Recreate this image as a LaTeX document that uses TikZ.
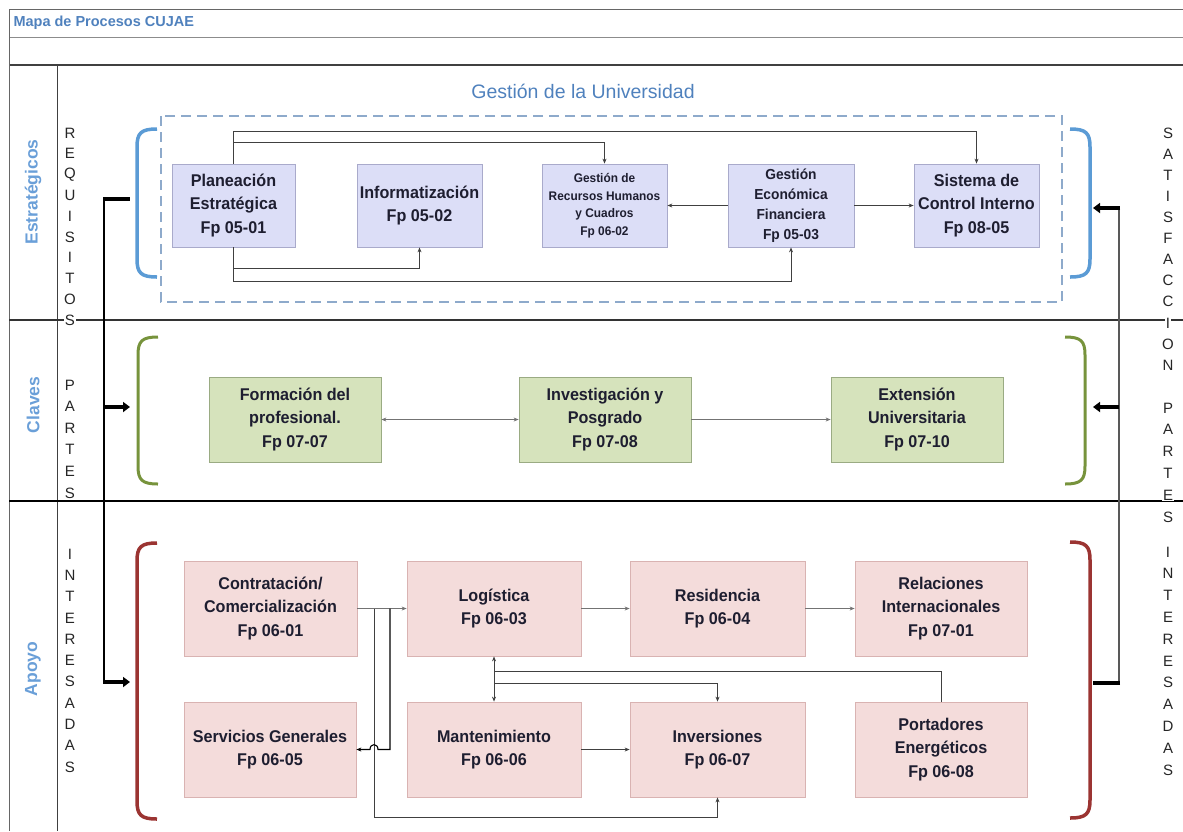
\documentclass[tikz,border=0pt]{standalone}
\usepackage{fontspec}
\setmainfont{Liberation Sans}
\newfontfamily\bxf[FakeStretch=0.95]{Liberation Sans}
\usetikzlibrary{arrows.meta}
\definecolor{tblue}{HTML}{4F81BD}
\definecolor{lblue}{HTML}{6A9FD8}
\definecolor{brblue}{HTML}{5B9BD5}
\definecolor{brgreen}{HTML}{77933C}
\definecolor{brred}{HTML}{9B3432}
\definecolor{sfill}{HTML}{DCDEF7}
\definecolor{sbord}{HTML}{A9AACB}
\definecolor{gfill}{HTML}{D6E3BC}
\definecolor{gbord}{HTML}{9AAB83}
\definecolor{pfill}{HTML}{F4DCDB}
\definecolor{pbord}{HTML}{D9B3B2}
\definecolor{dashc}{HTML}{8EAACB}
\definecolor{txt}{HTML}{1E1E30}
\begin{document}
\begin{tikzpicture}[x=1pt,y=-1pt,
  conn/.style={draw=black!75, line width=0.8pt},
  arr/.style={-{Stealth[length=5pt,width=4pt]}},
  darr/.style={{Stealth[length=5pt,width=4pt]}-{Stealth[length=5pt,width=4pt]}},
  bigarr/.style={line width=3.2pt, -{Triangle[length=7pt,width=10pt]}},
  tick/.style={line width=3.2pt},
  boxbase/.style={align=center, text=txt, inner sep=2pt, line width=0.8pt},
  sbox/.style={boxbase, draw=sbord, fill=sfill, minimum height=83},
  gbox/.style={boxbase, draw=gbord, fill=gfill, minimum width=172, minimum height=85},
  pbox/.style={boxbase, draw=pbord, fill=pfill, minimum height=95},
  bigf/.style={font=\bxf\bfseries\fontsize{17}{23.5}\selectfont},
  letr/.style={fill=white, inner sep=1pt, text=black!85, font=\fontsize{15}{15}\selectfont},
  sidel/.style={rotate=90, text=lblue, font=\bfseries\fontsize{17.5}{19}\selectfont},
  sep/.style={draw=black!80, line width=1.3pt}
]
\useasboundingbox (0,0) rectangle (1183,831);

% frame and header
\draw[black!60, line width=1pt] (9,9) -- (1183,9);
\draw[black!45, line width=1pt] (9,37) -- (1183,37);
\draw[black!75, line width=1.3pt] (9,65) -- (1183,65);
\draw[black!60, line width=1pt] (9,9) -- (9,831);
\draw[black!75, line width=1pt] (57,65) -- (57,831);
\draw[sep] (9,320) -- (1183,320);
\draw[black, line width=2pt] (9,501) -- (1183,501);

\node[anchor=west, text=tblue, font=\bfseries\fontsize{14.5}{16}\selectfont] (titulo) at (10,23) {Mapa de Procesos CUJAE};
\node[text=tblue, font=\fontsize{19.5}{21}\selectfont] (gestion) at (583,91) {Gestión de la Universidad};

% side labels
\node[sidel] (lest) at (33,192) {Estratégicos};
\node[sidel] (lcla) at (33,405) {Claves};
\node[sidel] (lapo) at (33,669) {Apoyo};

% dashed frame
\draw[dashc, line width=1.2pt, dash pattern=on 10pt off 6pt] (161,116) rectangle (1062,302);

% brackets
\draw[brblue, line width=3.5pt] (157,129) .. controls (141,129) and (137,133) .. (137,147) -- (137,259) .. controls (137,273) and (141,277) .. (157,277);
\draw[brblue, line width=3.5pt] (1070,129) .. controls (1086,129) and (1090,133) .. (1090,147) -- (1090,259) .. controls (1090,273) and (1086,277) .. (1070,277);
\draw[brgreen, line width=3pt] (158,337) .. controls (142,337) and (138,341) .. (138,355) -- (138,466) .. controls (138,480) and (142,484) .. (158,484);
\draw[brgreen, line width=3pt] (1065,337) .. controls (1081,337) and (1085,341) .. (1085,355) -- (1085,466) .. controls (1085,480) and (1081,484) .. (1065,484);
\draw[brred, line width=3.5pt] (157,543) .. controls (141,543) and (137,547) .. (137,561) -- (137,801) .. controls (137,815) and (141,819) .. (157,819);
\draw[brred, line width=3.5pt] (1070,542) .. controls (1086,542) and (1090,546) .. (1090,560) -- (1090,800) .. controls (1090,814) and (1086,818) .. (1070,818);

% bracket attachment points
\coordinate (bl1) at (130,199);
\coordinate (bl2) at (130,407);
\coordinate (bl3) at (130,682);
\coordinate (br1) at (1093,208);
\coordinate (br2) at (1093,407);
\coordinate (br3) at (1093,683);
\coordinate (vl1) at (104,199);
\coordinate (vl2) at (104,407);
\coordinate (vl3) at (104,682);
\coordinate (vr1) at (1119,208);
\coordinate (vr2) at (1119,407);
\coordinate (vr3) at (1119,683);

% left side connector
\draw[black, line width=2pt] (vl1) -- (vl3);
\draw[tick] ([xshift=-1pt]vl1) -- (bl1);
\draw[bigarr] ([xshift=-1pt]vl3) -- (bl3);
\draw[bigarr] (vl2) -- (bl2);
% right side connector
\draw[black!65, line width=1.2pt] (vr1) -- (vr3);
\draw[bigarr] ([xshift=1pt]vr1) -- (br1);
\draw[bigarr] (vr2) -- (br2);
\draw[tick] ([xshift=1pt]vr3) -- (br3);

% strategic boxes
\node[sbox, bigf, minimum width=123] (P1) at (233.5,205.5) {Planeación\\Estratégica\\Fp 05-01};
\node[sbox, bigf, minimum width=125] (P2) at (419.5,205.5) {Informatización\\Fp 05-02};
\node[sbox, minimum width=125, font=\bxf\bfseries\fontsize{12.5}{17.5}\selectfont] (P3) at (604.5,205.5) {Gestión de\\Recursos Humanos\\y Cuadros\\Fp 06-02};
\node[sbox, minimum width=126, font=\bxf\bfseries\fontsize{14.5}{20}\selectfont] (P4) at (791,205.5) {Gestión\\Económica\\Financiera\\Fp 05-03};
\node[sbox, bigf, minimum width=125] (P5) at (976.5,205.5) {Sistema de\\Control Interno\\Fp 08-05};

\coordinate (s1) at (233.5,131);
\coordinate (s2) at (233.5,142);
\coordinate (s3) at (233.5,268);
\coordinate (s4) at (233.5,281);
\draw[conn, arr] (P1.north) -- (s1) -| (P5.north);
\draw[conn, arr] (s2) -| (P3.north);
\draw[conn, arr] (P1.south) -- (s3) -| (P2.south);
\draw[conn, arr] (s3) -- (s4) -| (P4.south);
\draw[conn, arr] (P4.west) -- (P3.east);
\draw[conn, arr] (P4.east) -- (P5.west);

% key boxes
\node[gbox, bigf] (K1) at (295,419.5) {Formación del\\profesional.\\Fp 07-07};
\node[gbox, bigf] (K2) at (605,419.5) {Investigación y\\Posgrado\\Fp 07-08};
\node[gbox, bigf] (K3) at (917,419.5) {Extensión\\Universitaria\\Fp 07-10};
\draw[conn, darr, draw=black!55] (K1.east) -- (K2.west);
\draw[conn, arr, draw=black!55] (K2.east) -- (K3.west);

% support boxes
\node[pbox, bigf, minimum width=173] (A1) at (270.5,608.5) {Contratación/\\Comercialización\\Fp 06-01};
\node[pbox, bigf, minimum width=174] (A2) at (494,608.5) {Logística\\Fp 06-03};
\node[pbox, bigf, minimum width=175] (A3) at (717.5,608.5) {Residencia\\Fp 06-04};
\node[pbox, bigf, minimum width=172] (A4) at (941,608.5) {Relaciones\\Internacionales\\Fp 07-01};
\node[pbox, bigf, minimum width=172] (A5) at (270,749.5) {Servicios Generales\\Fp 06-05};
\node[pbox, bigf, minimum width=174] (A6) at (494,749.5) {Mantenimiento\\Fp 06-06};
\node[pbox, bigf, minimum width=175] (A7) at (717.5,749.5) {Inversiones\\Fp 06-07};
\node[pbox, bigf, minimum width=172] (A8) at (941,749.5) {Portadores\\Energéticos\\Fp 06-08};

\draw[conn, arr, draw=black!55] (A1.east) -- (A2.west);
\draw[conn, arr, draw=black!55] (A2.east) -- (A3.west);
\draw[conn, arr, draw=black!55] (A3.east) -- (A4.west);
\draw[conn, arr] (A6.east) -- (A7.west);

\coordinate (ja) at (374,608.5);
\coordinate (jb) at (390,608.5);
\coordinate (ja2) at (374,817);
\coordinate (jb2) at (390,749.5);
\coordinate (h1) at (378,749.5);
\coordinate (h2) at (370,749.5);
\draw[conn, arr] (ja) -- (ja2) -| (A7.south);
\draw[conn, arr, draw=black, line width=1.1pt] (jb) -- (jb2) -- (h1) .. controls (378,743) and (370,743) .. (h2) -- (A5.east);

\coordinate (m1) at (494,671);
\coordinate (m2) at (941,671);
\coordinate (m3) at (494,683);
\draw[conn, darr] (A2.south) -- (A6.north);
\draw[conn] (A8.north) -- (m2) -- (m1);
\draw[conn, arr] (m3) -| (A7.north);

% letter columns
\foreach \l [count=\i] in {R,E,Q,U,I,S,I,T,O,S}
  \node[letr] (lq\i) at (70,{133+20.8*(\i-1)}) {\l};
\foreach \l [count=\i] in {P,A,R,T,E,S}
  \node[letr] (lp\i) at (70,{385+21.6*(\i-1)}) {\l};
\foreach \l [count=\i] in {I,N,T,E,R,E,S,A,D,A,S}
  \node[letr] (li\i) at (70,{554+21.3*(\i-1)}) {\l};
\foreach \l [count=\i] in {S,A,T,I,S,F,A,C,C,I,O,N}
  \node[letr] (rs\i) at (1168,{133+21.1*(\i-1)}) {\l};
\foreach \l [count=\i] in {P,A,R,T,E,S}
  \node[letr] (rp\i) at (1168,{408+21.8*(\i-1)}) {\l};
\foreach \l [count=\i] in {I,N,T,E,R,E,S,A,D,A,S}
  \node[letr] (ri\i) at (1168,{552+21.8*(\i-1)}) {\l};
\end{tikzpicture}
\end{document}
